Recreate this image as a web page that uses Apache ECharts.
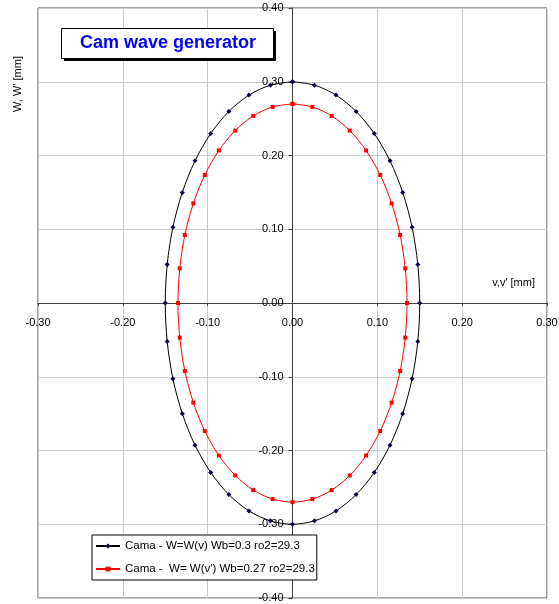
<!DOCTYPE html>
<html>
<head>
<meta charset="utf-8">
<script src="https://cdn.jsdelivr.net/npm/echarts@6/dist/echarts.min.js"></script>
<style>
  html, body { margin: 0; padding: 0; background: #ffffff; }
  #chart { width: 559px; height: 604px; }
</style>
</head>
<body>
<div id="chart"></div>
<script>
// Cam profile, Wb = 0.3: radial displacement v and axial displacement W [mm], every 10 degrees
const camV = [0, 0.026, 0.0513, 0.075, 0.0964, 0.1149, 0.1299, 0.141, 0.1477, 0.15,
  0.1477, 0.141, 0.1299, 0.1149, 0.0964, 0.075, 0.0513, 0.026, 0,
  -0.026, -0.0513, -0.075, -0.0964, -0.1149, -0.1299, -0.141, -0.1477, -0.15,
  -0.1477, -0.141, -0.1299, -0.1149, -0.0964, -0.075, -0.0513, -0.026, 0];
const camW = [0.3, 0.2954, 0.2819, 0.2598, 0.2298, 0.1928, 0.15, 0.1026, 0.0521, 0,
  -0.0521, -0.1026, -0.15, -0.1928, -0.2298, -0.2598, -0.2819, -0.2954, -0.3,
  -0.2954, -0.2819, -0.2598, -0.2298, -0.1928, -0.15, -0.1026, -0.0521, 0,
  0.0521, 0.1026, 0.15, 0.1928, 0.2298, 0.2598, 0.2819, 0.2954, 0.3];

// Cam profile, Wb = 0.27: v' and W'
const camV2 = [0, 0.0234, 0.0462, 0.0675, 0.0868, 0.1034, 0.1169, 0.1269, 0.1329, 0.135,
  0.1329, 0.1269, 0.1169, 0.1034, 0.0868, 0.0675, 0.0462, 0.0234, 0,
  -0.0234, -0.0462, -0.0675, -0.0868, -0.1034, -0.1169, -0.1269, -0.1329, -0.135,
  -0.1329, -0.1269, -0.1169, -0.1034, -0.0868, -0.0675, -0.0462, -0.0234, 0];
const camW2 = [0.27, 0.2659, 0.2537, 0.2338, 0.2068, 0.1736, 0.135, 0.0923, 0.0469, 0,
  -0.0469, -0.0923, -0.135, -0.1736, -0.2068, -0.2338, -0.2537, -0.2659, -0.27,
  -0.2659, -0.2537, -0.2338, -0.2068, -0.1736, -0.135, -0.0923, -0.0469, 0,
  0.0469, 0.0923, 0.135, 0.1736, 0.2068, 0.2338, 0.2537, 0.2659, 0.27];

const seriesNames = [
  'Cama - W=W(v) Wb=0.3 ro2=29.3',
  'Cama -  W= W(v\') Wb=0.27 ro2=29.3'
];
const chartTitle = 'Cam wave generator';
const xAxisName = 'v,v\' [mm]';
const yAxisName = 'W, W\' [mm]';

const FONT = '"Liberation Sans", Arial, sans-serif';
const pairs = (xs, ys) => xs.map((x, i) => [x, ys[i]]);
const fmt = v => v.toFixed(2);

const GRID = { left: 38, top: 8, width: 509, height: 590 };

const chart = echarts.init(document.getElementById('chart'), null, { renderer: 'canvas' });

const labelCommon = { color: '#000', fontFamily: FONT, fontSize: 11, formatter: fmt, showMinLabel: true, showMaxLabel: true };
const splitCommon = { show: true, lineStyle: { color: '#cccccc', width: 1 } };
const lineCommon = { show: true, onZero: false, lineStyle: { color: '#404040', width: 1 } };

chart.setOption({
  animation: false,
  backgroundColor: '#ffffff',
  grid: Object.assign({
    show: true, borderColor: '#404040', borderWidth: 1, backgroundColor: 'transparent',
    containLabel: false, outerBoundsMode: 'none'
  }, GRID),
  // both axes cross at the origin, in the middle of the plot
  xAxis: {
    type: 'value', min: -0.3, max: 0.3, interval: 0.1,
    position: 'bottom', offset: -GRID.height / 2,
    axisLine: lineCommon,
    axisTick: { show: true, length: 3, lineStyle: { color: '#404040' } },
    splitLine: splitCommon,
    axisLabel: Object.assign({}, labelCommon, { margin: 14 })
  },
  yAxis: {
    type: 'value', min: -0.4, max: 0.4, interval: 0.1,
    position: 'left', offset: -GRID.width / 2,
    axisLine: lineCommon,
    axisTick: { show: true, length: 4, lineStyle: { color: '#404040' } },
    splitLine: splitCommon,
    axisLabel: Object.assign({}, labelCommon, { margin: 9 })
  },
  legend: {
    left: 92, top: 535,
    orient: 'vertical',
    backgroundColor: '#ffffff',
    borderColor: '#000000',
    borderWidth: 1,
    padding: [5, 2, 5, 3],
    itemWidth: 24,
    itemHeight: 6,
    itemGap: 11,
    textStyle: { color: '#000', fontFamily: FONT, fontSize: 11.5 },
    data: seriesNames
  },
  graphic: [
    // title box with its drop shadow
    { type: 'rect', left: 64, top: 31, z: 10, shape: { width: 212, height: 30 }, style: { fill: '#000000' } },
    { type: 'rect', left: 61, top: 28, z: 11, shape: { width: 212, height: 30 }, style: { fill: '#ffffff', stroke: '#000000', lineWidth: 1 } },
    { type: 'text', x: 168, y: 43, z: 12, style: {
        text: chartTitle, fill: '#0000ff', font: 'bold 18px ' + FONT,
        textAlign: 'center', textVerticalAlign: 'middle' } },
    // axis titles
    { type: 'text', x: 535, y: 283, z: 12, style: {
        text: xAxisName, fill: '#000', font: '11px ' + FONT,
        textAlign: 'right', textVerticalAlign: 'middle' } },
    { type: 'text', x: 18, y: 84, rotation: Math.PI / 2, z: 12, style: {
        text: yAxisName, fill: '#000', font: '11px ' + FONT,
        textAlign: 'center', textVerticalAlign: 'middle' } }
  ],
  series: [
    {
      name: seriesNames[0],
      type: 'line',
      data: pairs(camV, camW),
      smooth: 0.3,
      symbol: 'diamond',
      symbolSize: 5,
      showSymbol: true,
      lineStyle: { color: '#000000', width: 1 },
      itemStyle: { color: '#000040' },
      z: 3
    },
    {
      name: seriesNames[1],
      type: 'line',
      data: pairs(camV2, camW2),
      smooth: 0.3,
      symbol: 'rect',
      symbolSize: 4,
      showSymbol: true,
      lineStyle: { color: '#ff0000', width: 1 },
      itemStyle: { color: '#ff0000' },
      z: 3
    }
  ]
});
</script>
</body>
</html>
